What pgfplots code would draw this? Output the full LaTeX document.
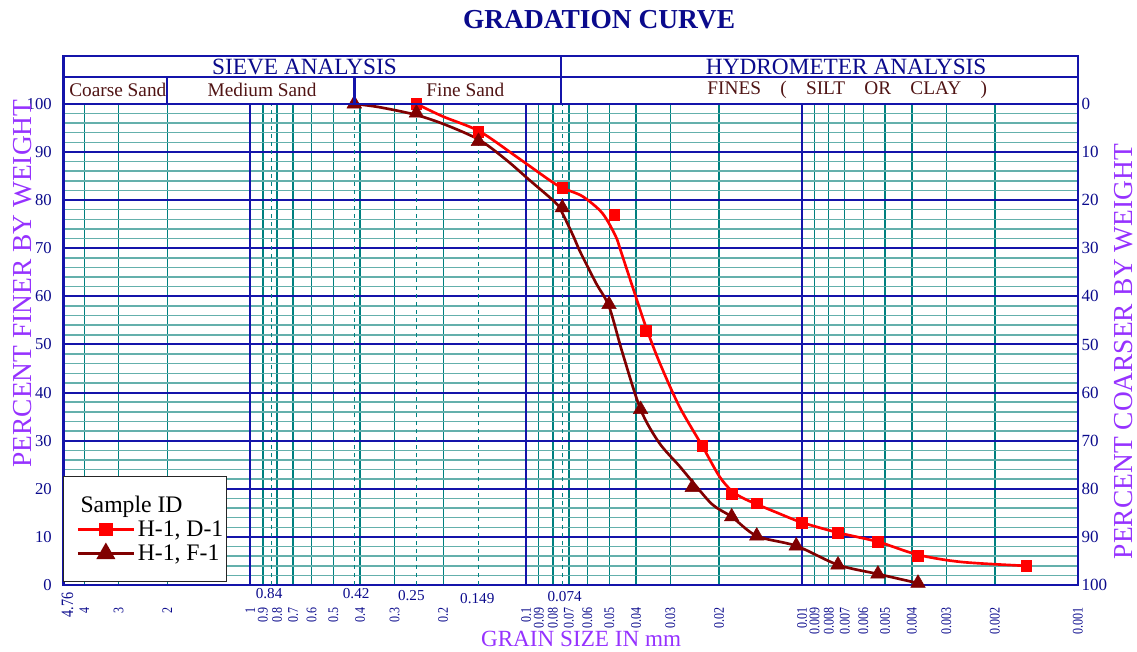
\documentclass[border=0pt]{standalone}
\usepackage{pgfplots}
\pgfplotsset{compat=1.18}
\usepackage{fontspec}
\setmainfont{Liberation Serif}
\definecolor{navyT}{RGB}{10,10,140}
\definecolor{gridblue}{RGB}{20,20,170}
\definecolor{gteal}{RGB}{0,128,128}
\definecolor{lteal}{RGB}{100,176,172}
\definecolor{lblpurple}{RGB}{150,50,255}
\definecolor{brownT}{RGB}{80,20,20}
\definecolor{darkred}{RGB}{128,0,0}
\newcommand{\fs}[1]{\fontsize{#1}{#1}\selectfont}
\tikzset{px/.style={x=0.75pt,y=-0.75pt,yshift=489pt}}
\begin{document}
\begin{tikzpicture}
\begin{scope}[px]
\useasboundingbox (0,0) rectangle (1137,652);
\end{scope}
\begin{axis}[
  at={(47.625pt,49.5pt)}, anchor=south west,
  scale only axis, width=762.075pt, height=361.5pt,
  xmode=log, x dir=reverse, xmin=0.001, xmax=4.76,
  ymin=0, ymax=100,
  xtick={4,3,2,1,0.9,0.8,0.7,0.6,0.5,0.4,0.3,0.2,0.1,0.09,0.08,0.07,0.06,0.05,0.04,0.03,0.02,0.01,0.009,0.008,0.007,0.006,0.005,0.004,0.003,0.002,0.001},
  xticklabels={4,3,2,1,0.9,0.8,0.7,0.6,0.5,0.4,0.3,0.2,0.1,0.09,0.08,0.07,0.06,0.05,0.04,0.03,0.02,0.01,0.009,0.008,0.007,0.006,0.005,0.004,0.003,0.002,0.001},
  minor xtick={},
  ytick={0,10,...,100},
  minor y tick num=4,
  grid=both,
  major x grid style={gteal, line width=1pt},
  major y grid style={gridblue, line width=1.5pt},
  minor y grid style={lteal, line width=1.1pt},
  extra x ticks={0.84,0.42,0.25,0.149,0.074},
  extra x tick labels={},
  extra x tick style={grid=major, major x grid style={gteal, dashed, line width=0.7pt}},
  tick style={draw=none},
  axis line style={gridblue, line width=2pt},
  xticklabel style={yshift=-16.5pt, rotate=90, xscale=0.82, anchor=east, inner sep=0pt, font=\fs{11pt}, text=navyT},
  yticklabel style={anchor=east, inner sep=0pt, xshift=-8.6pt, font=\fs{12.5pt}, text=navyT},
  /pgf/number format/assume math mode=true,
  legend cell align=left,
  legend style={at={(0,0.006)}, anchor=south west, draw=black!85, line width=0.8pt, fill=white,
    font=\fs{17.8pt}, inner xsep=0pt, inner ysep=12.5pt, row sep=0.8pt,
    /tikz/every even column/.append style={column sep=0pt}},
  legend image code/.code={\path (-9.5pt,0pt); \draw[mark repeat=2,mark phase=2] plot coordinates {(0pt,0pt) (21pt,0pt) (42pt,0pt)};},
]
\draw[gridblue, line width=1.5pt] (axis cs:1,0) -- (axis cs:1,100);
\draw[gridblue, line width=1.5pt] (axis cs:0.1,0) -- (axis cs:0.1,100);
\draw[gridblue, line width=1.5pt] (axis cs:0.01,0) -- (axis cs:0.01,100);

\addlegendimage{empty legend}
\addlegendentry{\hspace*{-43pt}Sample ID}
\addlegendimage{red, line width=2pt, mark=square*, mark size=4pt, mark options={solid}}
\addlegendentry{H-1, D-1}
\addlegendimage{darkred, line width=2pt, mark=triangle*, mark size=6.3pt, mark options={solid}}
\addlegendentry{H-1, F-1}

% H-1, D-1 fitted curve
\addplot[red, line width=2pt, smooth, forget plot] coordinates {
(0.25,100) (0.2009,97.4) (0.1479,94.3) (0.109,89.1) (0.0826,84.2) (0.0739,82.5)
(0.0626,80.8) (0.0530,77.3) (0.0474,72.5) (0.0454,69.4) (0.0401,60.0) (0.0369,53.8)
(0.0330,46.5) (0.0279,37.2) (0.0230,28.9) (0.0200,22.7) (0.0180,19.6) (0.0160,17.8)
(0.01215,14.9) (0.0100,13.0) (0.00741,10.9) (0.00531,9.0) (0.0038,6.3) (0.00264,4.8) (0.00154,4.0)};
% H-1, D-1 data
\addplot[red, only marks, mark=square*, mark size=4pt, forget plot] coordinates {
(0.25,100) (0.149,94.2) (0.074,82.5) (0.048,77.0) (0.0369,52.9) (0.0230,28.9)
(0.0180,19.0) (0.0146,17.0) (0.0100,13.0) (0.00741,10.9) (0.00531,9.0) (0.0038,6.1) (0.00154,4.0)};
% H-1, F-1 fitted curve
\addplot[darkred, line width=2pt, smooth, forget plot] coordinates {
(0.42,100) (0.3404,99.3) (0.2507,97.7) (0.1953,95.6) (0.1479,92.5) (0.1184,88.4)
(0.0975,84.2) (0.0781,79.4) (0.0741,77.4) (0.0671,72.2) (0.0643,69.7) (0.0559,62.8)
(0.0501,57.9) (0.0448,48.3) (0.0385,36.5) (0.0330,29.6) (0.0279,24.8) (0.0254,22.0)
(0.0212,16.8) (0.0180,14.2) (0.0146,10.2) (0.0105,8.15) (0.00741,4.2) (0.00531,2.3) (0.0038,0.4)};
% H-1, F-1 data
\addplot[darkred, only marks, mark=triangle*, mark size=6.3pt, forget plot] coordinates {
(0.42,100) (0.25,98.1) (0.149,92.2) (0.074,78.4) (0.0501,58.3) (0.0385,36.5)
(0.025,20.3) (0.018,14.2) (0.0146,10.2) (0.0105,8.15) (0.00741,4.2) (0.00531,2.3) (0.0038,0.4)};
\end{axis}

\begin{axis}[
  at={(47.625pt,49.5pt)}, anchor=south west,
  scale only axis, width=762.075pt, height=361.5pt,
  xmode=log, xmin=0.001, xmax=4.76,
  ymin=0, ymax=100, y dir=reverse,
  hide x axis, axis y line*=right,
  axis line style={draw=none}, tick style={draw=none},
  ytick={0,10,...,100},
  yticklabel style={anchor=west, inner sep=0pt, xshift=2.5pt, font=\fs{12.8pt}, text=navyT},
  /pgf/number format/assume math mode=true,
]
\addplot[draw=none] coordinates {(1,50)};
\end{axis}

\begin{scope}[px]
% header boxes
\draw[gridblue, line width=2pt] (63.5,56) rectangle (1079.6,104);
\draw[gridblue, line width=1.6pt] (63.5,77.5) -- (1079.6,77.5);
\draw[gridblue, line width=1.6pt] (562,56) -- (562,104);
\draw[gridblue, line width=1.6pt] (167,77.5) -- (167,104);
\draw[gridblue, line width=1.6pt] (355,77.5) -- (355,104);
% title
\node[font={\fs{20.6pt}\bfseries}, text=navyT] at (600,20) {GRADATION CURVE};
\node[font=\fs{17.5pt}, text=navyT] at (305,67) {SIEVE ANALYSIS};
\node[font=\fs{17.5pt}, text=navyT] at (847.5,67) {HYDROMETER ANALYSIS};
\node[font=\fs{14.5pt}, text=brownT] at (118,90) {Coarse Sand};
\node[font=\fs{14.5pt}, text=brownT] at (262.5,90) {Medium Sand};
\node[font=\fs{14.5pt}, text=brownT] at (466,90) {Fine Sand};
\node[font=\fs{14.5pt}, text=brownT] at (848.5,90) {FINES\quad(\quad SILT\quad OR\quad CLAY\quad)};
% sieve sizes
\node[font=\fs{11.4pt}, text=navyT] at (269.5,594) {0.84};
\node[font=\fs{11.4pt}, text=navyT] at (356.7,594) {0.42};
\node[font=\fs{11.4pt}, text=navyT] at (412,596) {0.25};
\node[font=\fs{11.4pt}, text=navyT] at (478,599.5) {0.149};
\node[font=\fs{11.4pt}, text=navyT] at (565.5,597.5) {0.074};
\node[rotate=90, xscale=0.82, anchor=east, inner sep=0pt, font=\fs{13pt}, text=navyT] at (67.5,593) {4.76};
% axis labels
\node[rotate=90, font=\fs{20.6pt}, text=lblpurple] at (22.5,284) {PERCENT FINER BY WEIGHT};
\node[rotate=90, font=\fs{20.6pt}, text=lblpurple] at (1125,352) {PERCENT COARSER BY WEIGHT};
\node[font=\fs{17.4pt}, text=lblpurple] at (582,640) {GRAIN SIZE IN mm};
\end{scope}
\end{tikzpicture}
\end{document}
